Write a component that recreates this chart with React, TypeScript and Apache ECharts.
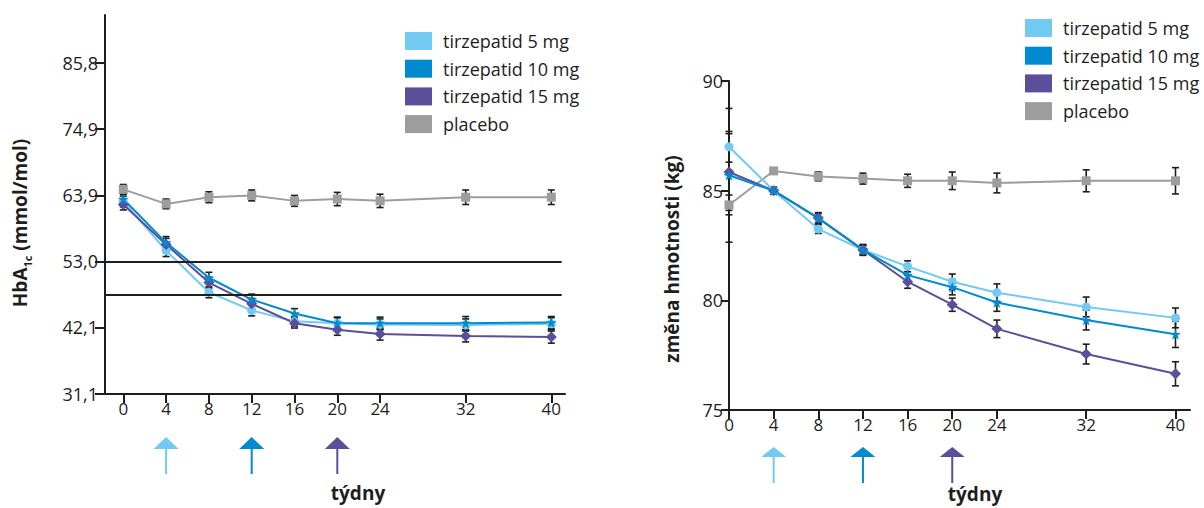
import React, { useEffect, useRef } from "react";
import * as echarts from "echarts";

const weeks = [0, 4, 8, 12, 16, 20, 24, 32, 40];
const seriesNames = ["tirzepatid 5 mg", "tirzepatid 10 mg", "tirzepatid 15 mg", "placebo"];
const colors = ["#72caf3", "#008acf", "#5b4e9b", "#9d9d9d"];
const arrowWeeks = [4, 12, 20];

// HbA1c (mmol/mol)
const hba1c5 = [62.9, 54.8, 47.9, 44.9, 43.1, 42.8, 42.6, 42.5, 42.7];
const hba1c10 = [63.3, 56.1, 50.3, 46.7, 44.4, 42.8, 42.8, 42.8, 42.9];
const hba1c15 = [62.4, 55.8, 49.5, 46.0, 42.8, 41.7, 41.0, 40.7, 40.5];
const hba1cPlacebo = [64.9, 62.5, 63.6, 63.9, 63.0, 63.3, 63.0, 63.6, 63.6];
const hba1cErr5 = [0.9, 1.0, 0.9, 0.9, 0.8, 0.9, 0.9, 1.0, 1.0];
const hba1cErr10 = [0.9, 1.0, 0.9, 0.9, 0.8, 1.0, 1.0, 1.1, 1.0];
const hba1cErr15 = [0.9, 1.0, 0.9, 0.9, 0.8, 0.9, 1.0, 1.0, 1.0];
const hba1cErrPlacebo = [0.8, 0.8, 0.9, 0.9, 0.9, 1.1, 1.1, 1.2, 1.2];
const hba1cTicks = [31.1, 42.1, 53.0, 63.9, 74.9, 85.8];
const hba1cTargets = [53.0, 47.5];

// body weight (kg)
const weight5 = [87.0, 85.0, 83.25, 82.3, 81.55, 80.85, 80.35, 79.7, 79.2];
const weight10 = [85.7, 85.0, 83.75, 82.3, 81.15, 80.6, 79.9, 79.1, 78.45];
const weight15 = [85.85, 85.0, 83.75, 82.3, 80.85, 79.8, 78.7, 77.55, 76.65];
const weightPlacebo = [84.35, 85.9, 85.65, 85.55, 85.45, 85.45, 85.35, 85.45, 85.45];
const weightErr5 = [0.7, 0.15, 0.2, 0.2, 0.25, 0.35, 0.4, 0.45, 0.45];
const weightErr10 = [3.05, 0.15, 0.2, 0.2, 0.3, 0.35, 0.4, 0.45, 0.6];
const weightErr15 = [1.75, 0.15, 0.25, 0.25, 0.3, 0.3, 0.4, 0.45, 0.55];
const weightErrPlacebo = [0.45, 0.1, 0.2, 0.25, 0.3, 0.4, 0.45, 0.5, 0.6];
const weightTicks = [75, 80, 85, 90];

const STAR =
  "path://M50,0 L61.2,34.5 L97.6,34.5 L68.2,55.9 L79.4,90.5 L50,69.1 L20.6,90.5 L31.8,55.9 L2.4,34.5 L38.8,34.5 Z";
const symbols = ["circle", STAR, "diamond", "rect"];
const symbolSizes = [9, 11, 11, 9];

const INK = "#1e1e1e";
const FONT = "Open Sans";

function lineSeries(idx: number, values: number[], axis: number) {
  return {
    type: "line",
    name: seriesNames[idx],
    xAxisIndex: axis,
    yAxisIndex: axis,
    data: weeks.map((w, i) => [w, values[i]]),
    symbol: symbols[idx],
    symbolSize: symbolSizes[idx],
    showSymbol: true,
    itemStyle: { color: colors[idx] },
    lineStyle: { color: colors[idx], width: 2 },
    z: 3,
    silent: true,
  };
}

function errSeries(values: number[], errs: number[], axis: number) {
  return {
    type: "custom",
    xAxisIndex: axis,
    yAxisIndex: axis,
    data: weeks.map((w, i) => [w, values[i] - errs[i], values[i] + errs[i]]),
    renderItem: (params: any, api: any) => {
      const lo = api.coord([api.value(0), api.value(1)]);
      const hi = api.coord([api.value(0), api.value(2)]);
      const hw = 3.5;
      const st = { stroke: INK, lineWidth: 1.6 };
      return {
        type: "group",
        children: [
          { type: "line", shape: { x1: lo[0], y1: lo[1], x2: hi[0], y2: hi[1] }, style: st },
          { type: "line", shape: { x1: lo[0] - hw, y1: lo[1], x2: lo[0] + hw, y2: lo[1] }, style: st },
          { type: "line", shape: { x1: hi[0] - hw, y1: hi[1], x2: hi[0] + hw, y2: hi[1] }, style: st },
        ],
      };
    },
    z: 2,
    silent: true,
    clip: false,
  };
}

function arrowSeries(axis: number, base: number, top: number, mid: number, end: number) {
  return {
    type: "custom",
    xAxisIndex: axis,
    yAxisIndex: axis,
    data: arrowWeeks.map((w, i) => [w, base, i]),
    renderItem: (params: any, api: any) => {
      const p = api.coord([api.value(0), api.value(1)]);
      const c = colors[api.value(2)];
      const x = p[0];
      const y = p[1];
      return {
        type: "group",
        children: [
          {
            type: "polygon",
            shape: { points: [[x, y + top], [x - 12.5, y + mid], [x + 12.5, y + mid]] },
            style: { fill: c },
          },
          {
            type: "line",
            shape: { x1: x, y1: y + mid - 1, x2: x, y2: y + end },
            style: { stroke: c, lineWidth: 2 },
          },
        ],
      };
    },
    clip: false,
    silent: true,
    z: 5,
  };
}

function legendAt(left: number, top: number) {
  return {
    orient: "vertical",
    left,
    top,
    padding: 0,
    icon: "rect",
    itemWidth: 27,
    itemHeight: 18,
    itemGap: 9.7,
    data: seriesNames,
    selectedMode: false,
    textStyle: { fontFamily: FONT, fontSize: 18, color: INK, padding: [0, 0, 0, 6], lineHeight: 18 },
  };
}

function xAxisCfg(gridIndex: number, min: number, max: number) {
  return {
    type: "value",
    gridIndex,
    min,
    max,
    axisLine: { show: true, onZero: false, lineStyle: { color: INK, width: 2 } },
    axisTick: { show: true, customValues: weeks, length: 9, lineStyle: { color: INK, width: 2 } },
    axisLabel: { customValues: weeks, fontSize: 17, color: INK, margin: 6, fontFamily: FONT },
    splitLine: { show: false },
  };
}

export default function App() {
  const ref = useRef<HTMLDivElement>(null);
  useEffect(() => {
    const chart = echarts.init(ref.current!, null, { renderer: "svg" });
    const option: any = {
      animation: false,
      backgroundColor: "#ffffff",
      textStyle: { fontFamily: FONT },
      grid: [
        { left: 105, top: 15, width: 460, height: 379 },
        { left: 729, top: 81, width: 461, height: 329 },
      ],
      legend: [legendAt(405, 32), legendAt(1025, 19)],
      xAxis: [xAxisCfg(0, -1.71, 41.28), xAxisCfg(1, 0, 41.3)],
      yAxis: [
        {
          type: "value",
          gridIndex: 0,
          min: 31.1,
          max: 93.7,
          axisLine: { show: true, onZero: false, lineStyle: { color: INK, width: 2 } },
          axisTick: { show: true, customValues: hba1cTicks, length: 10, lineStyle: { color: INK, width: 2 } },
          axisLabel: {
            customValues: hba1cTicks,
            fontSize: 18,
            color: INK,
            margin: 7,
            fontFamily: FONT,
            formatter: (v: number) => v.toFixed(1).replace(".", ","),
          },
          splitLine: { show: false },
        },
        {
          type: "value",
          gridIndex: 1,
          min: 75,
          max: 90,
          axisLine: { show: true, onZero: false, lineStyle: { color: INK, width: 2 } },
          axisTick: { show: true, customValues: weightTicks, length: 8, lineStyle: { color: INK, width: 2 } },
          axisLabel: { customValues: weightTicks, fontSize: 18, color: INK, margin: 6, fontFamily: FONT },
          splitLine: { show: false },
        },
      ],
      series: [
        {
          ...lineSeries(3, hba1cPlacebo, 0),
          markLine: {
            silent: true,
            symbol: "none",
            label: { show: false },
            lineStyle: { color: INK, width: 2, type: "solid" },
            data: hba1cTargets.map((t) => [{ coord: [-1.71, t] }, { coord: [40.97, t] }]),
          },
        },
        errSeries(hba1cPlacebo, hba1cErrPlacebo, 0),
        errSeries(hba1c5, hba1cErr5, 0),
        errSeries(hba1c10, hba1cErr10, 0),
        errSeries(hba1c15, hba1cErr15, 0),
        lineSeries(0, hba1c5, 0),
        lineSeries(2, hba1c15, 0),
        lineSeries(1, hba1c10, 0),
        arrowSeries(0, 31.1, 43, 55, 80),
        lineSeries(3, weightPlacebo, 1),
        errSeries(weightPlacebo, weightErrPlacebo, 1),
        errSeries(weight5, weightErr5, 1),
        errSeries(weight10, weightErr10, 1),
        errSeries(weight15, weightErr15, 1),
        lineSeries(0, weight5, 1),
        lineSeries(2, weight15, 1),
        lineSeries(1, weight10, 1),
        arrowSeries(1, 75, 37, 47, 73),
      ],
      graphic: [
        {
          type: "text",
          x: 20,
          y: 223,
          rotation: Math.PI / 2,
          style: {
            text: "{b|HbA}{s|1c}{b| (mmol/mol)}",
            align: "center",
            verticalAlign: "middle",
            rich: {
              b: { fontFamily: FONT, fontSize: 19, fontWeight: "bold", fill: INK, lineHeight: 26 },
              s: { fontFamily: FONT, fontSize: 11, fontWeight: "bold", fill: INK, lineHeight: 11, verticalAlign: "bottom" },
            },
          },
        },
        {
          type: "text",
          x: 672,
          y: 259,
          rotation: Math.PI / 2,
          style: {
            text: "změna hmotnosti (kg)",
            align: "center",
            verticalAlign: "middle",
            fontFamily: FONT,
            fontSize: 19,
            fontWeight: "bold",
            fill: INK,
          },
        },
        {
          type: "text",
          x: 358,
          y: 493,
          style: { text: "týdny", align: "center", verticalAlign: "middle", fontFamily: FONT, fontSize: 19, fontWeight: "bold", fill: INK },
        },
        {
          type: "text",
          x: 975,
          y: 494,
          style: { text: "týdny", align: "center", verticalAlign: "middle", fontFamily: FONT, fontSize: 19, fontWeight: "bold", fill: INK },
        },
      ],
    };
    chart.setOption(option);
    return () => chart.dispose();
  }, []);
  return (
    <div
      ref={ref}
      style={{ position: "absolute", left: 0, top: 0, width: 1204, height: 508, background: "#fff" }}
    />
  );
}
